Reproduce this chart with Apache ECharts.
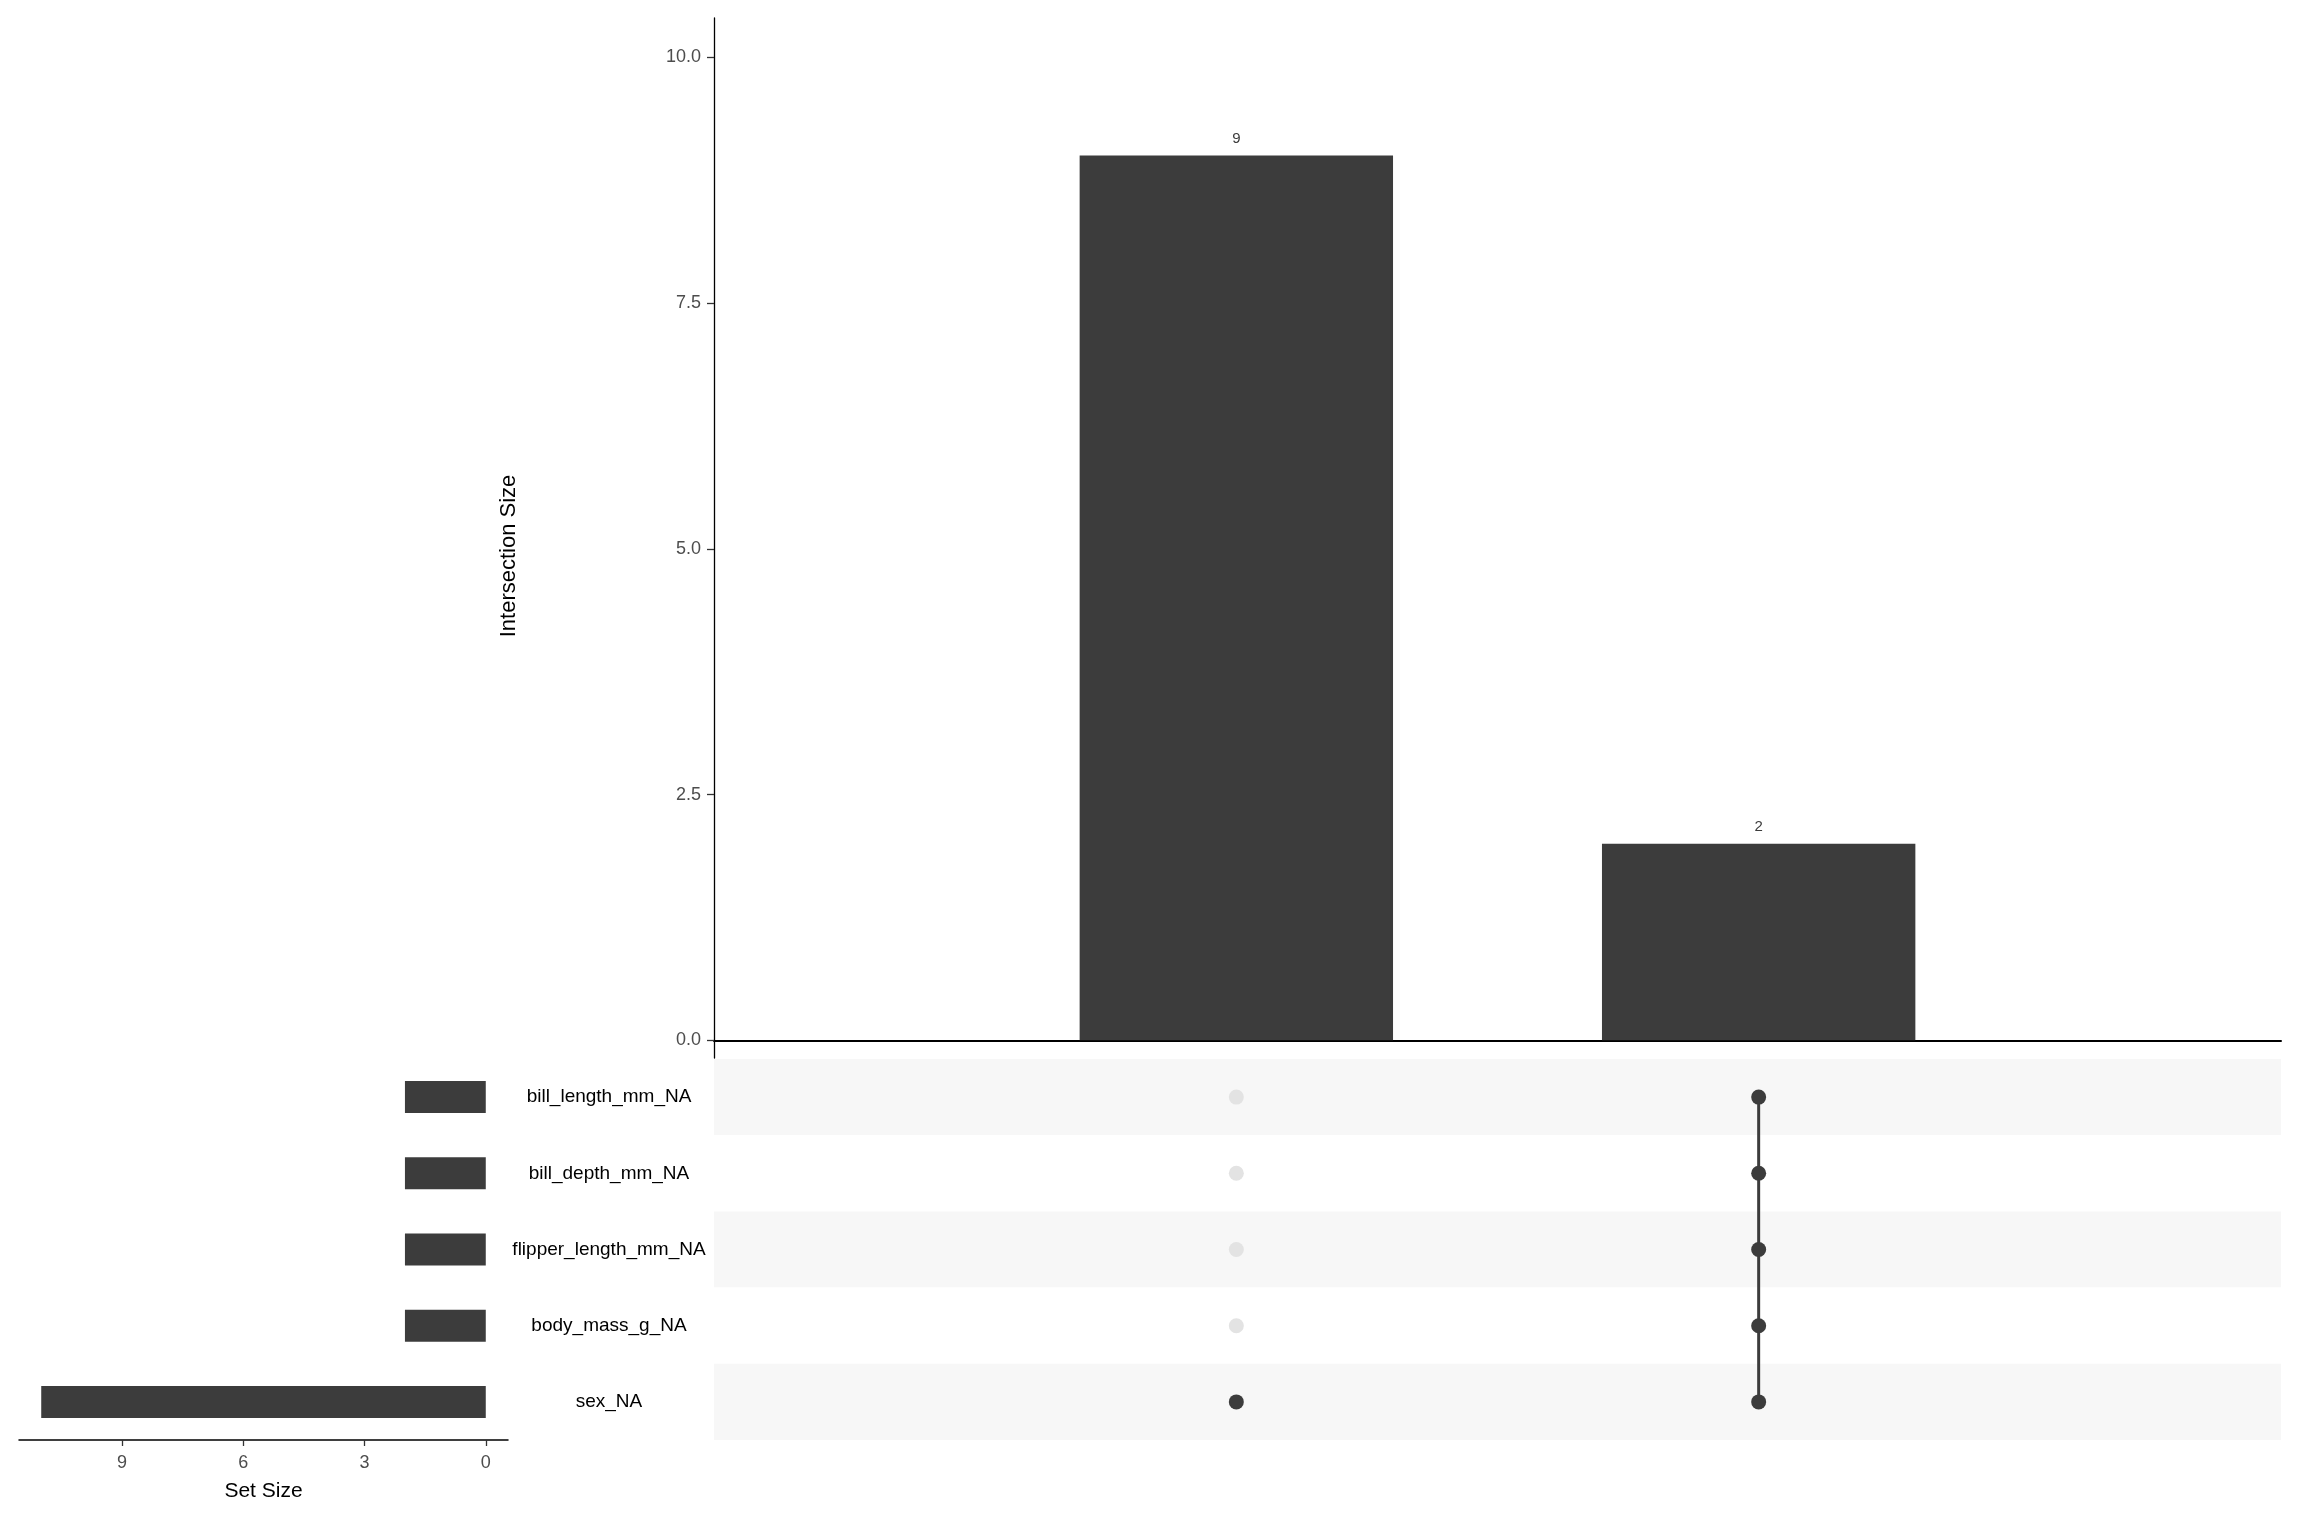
<!DOCTYPE html>
<html>
<head>
<meta charset="utf-8">
<script src="https://cdn.jsdelivr.net/npm/echarts@6/dist/echarts.min.js"></script>
<style>
html,body{margin:0;padding:0;background:#fff;}
#c{width:2300px;height:1520px;}
</style>
</head>
<body>
<div id="c"></div>
<script>
// ---- data ----
const setNames = ['bill_length_mm_NA', 'bill_depth_mm_NA', 'flipper_length_mm_NA', 'body_mass_g_NA', 'sex_NA'];
const setSizes = [2, 2, 2, 2, 11];
const intersectionNames = ['sex_NA only', 'all five'];
const intersectionSizes = [9, 2];
// membership of each set (in setNames order) per intersection
const intersectionMembers = [
  [0, 0, 0, 0, 1],
  [1, 1, 1, 1, 1]
];
const intersectionTicks = [0, 2.5, 5, 7.5, 10];
const setSizeTicks = [0, 3, 6, 9];

// ---- build ----
const FONT = 'Liberation Sans, Arial, sans-serif';
const DARK = '#3c3c3c';
const LIGHT = '#e3e3e3';

const topCats = ['pad_l'].concat(intersectionNames, ['pad_r']);
const topData = ['-'].concat(intersectionSizes, ['-']);

const activePts = [], inactivePts = [], lineSeries = [];
intersectionMembers.forEach((mem, i) => {
  const rows = [];
  mem.forEach((m, j) => {
    if (m) { activePts.push([i + 1, j]); rows.push(j); }
    else inactivePts.push([i + 1, j]);
  });
  if (rows.length > 1) {
    lineSeries.push({
      type: 'line', xAxisIndex: 1, yAxisIndex: 1, z: 2,
      data: [[i + 1, Math.min(...rows)], [i + 1, Math.max(...rows)]],
      showSymbol: false, silent: true,
      lineStyle: { color: DARK, width: 3, opacity: 1 }
    });
  }
});

const chart = echarts.init(document.getElementById('c'), null, { renderer: 'canvas' });
chart.setOption({
  animation: false,
  backgroundColor: '#ffffff',
  textStyle: { fontFamily: FONT },
  grid: [
    { left: 714, right: 19, top: 18, bottom: 462 },
    { left: 714, right: 19, top: 1059, bottom: 80 },
    { left: 19, right: 1792, top: 1059, bottom: 80 }
  ],
  xAxis: [
    {
      gridIndex: 0, type: 'category', data: topCats, boundaryGap: false,
      axisLine: { onZero: true, lineStyle: { color: '#000', width: 2 } },
      axisTick: { show: false }, axisLabel: { show: false }, splitLine: { show: false }
    },
    {
      gridIndex: 1, type: 'value', min: 0, max: 3, show: false
    },
    {
      gridIndex: 2, type: 'value', inverse: true, min: -0.55, max: 11.55,
      position: 'bottom',
      axisLine: { show: true, onZero: false, lineStyle: { color: '#000', width: 1.5 } },
      axisTick: { show: true, customValues: setSizeTicks, length: 6, lineStyle: { color: '#333', width: 1.3 } },
      axisLabel: { show: true, customValues: setSizeTicks, margin: 14, fontSize: 18, color: '#4d4d4d', fontFamily: FONT },
      splitLine: { show: false },
      name: 'Set Size', nameLocation: 'middle', nameGap: 41,
      nameTextStyle: { fontSize: 21, color: '#000', fontFamily: FONT }
    }
  ],
  yAxis: [
    {
      gridIndex: 0, type: 'value', min: -0.18, max: 10.4,
      axisLine: { show: true, onZero: false, lineStyle: { color: '#000', width: 1.3 } },
      axisTick: { show: true, customValues: intersectionTicks, length: 7, lineStyle: { color: '#333', width: 1.3 } },
      axisLabel: {
        show: true, customValues: intersectionTicks, margin: 13, fontSize: 18, color: '#4d4d4d', fontFamily: FONT,
        formatter: v => Number(v).toFixed(1)
      },
      splitLine: { show: false },
      name: 'Intersection Size', nameLocation: 'middle', nameRotate: 90, nameGap: 194,
      nameTextStyle: { fontSize: 22, color: '#000', fontFamily: FONT, padding: [0, 36, 0, 0] }
    },
    {
      gridIndex: 1, type: 'category', data: setNames, inverse: true,
      axisLine: { show: false }, axisTick: { show: false }, axisLabel: { show: false },
      splitLine: { show: false },
      splitArea: { show: true, areaStyle: { color: ['#f7f7f7', '#ffffff'] } }
    },
    {
      gridIndex: 2, type: 'category', data: setNames, inverse: true, position: 'right',
      axisLine: { show: false, onZero: false }, axisTick: { show: false },
      axisLabel: { show: true, margin: 101, align: 'center', fontSize: 19, color: '#000', fontFamily: FONT,
        padding: [8, 0, 0, 0] },
      splitLine: { show: false }
    }
  ],
  series: [
    {
      type: 'bar', xAxisIndex: 0, yAxisIndex: 0, data: topData, barWidth: '60%',
      itemStyle: { color: DARK },
      label: { show: true, position: 'top', distance: 9, fontSize: 15, color: '#3c3c3c', fontFamily: FONT }
    },
    ...lineSeries,
    {
      type: 'scatter', xAxisIndex: 1, yAxisIndex: 1, data: inactivePts, symbolSize: 15, z: 3,
      itemStyle: { color: LIGHT, opacity: 1 }, silent: true
    },
    {
      type: 'scatter', xAxisIndex: 1, yAxisIndex: 1, data: activePts, symbolSize: 15, z: 4,
      itemStyle: { color: DARK, opacity: 1 }, silent: true
    },
    {
      type: 'bar', xAxisIndex: 2, yAxisIndex: 2, data: setSizes, barWidth: '42%',
      itemStyle: { color: DARK }
    }
  ]
});
</script>
</body>
</html>
